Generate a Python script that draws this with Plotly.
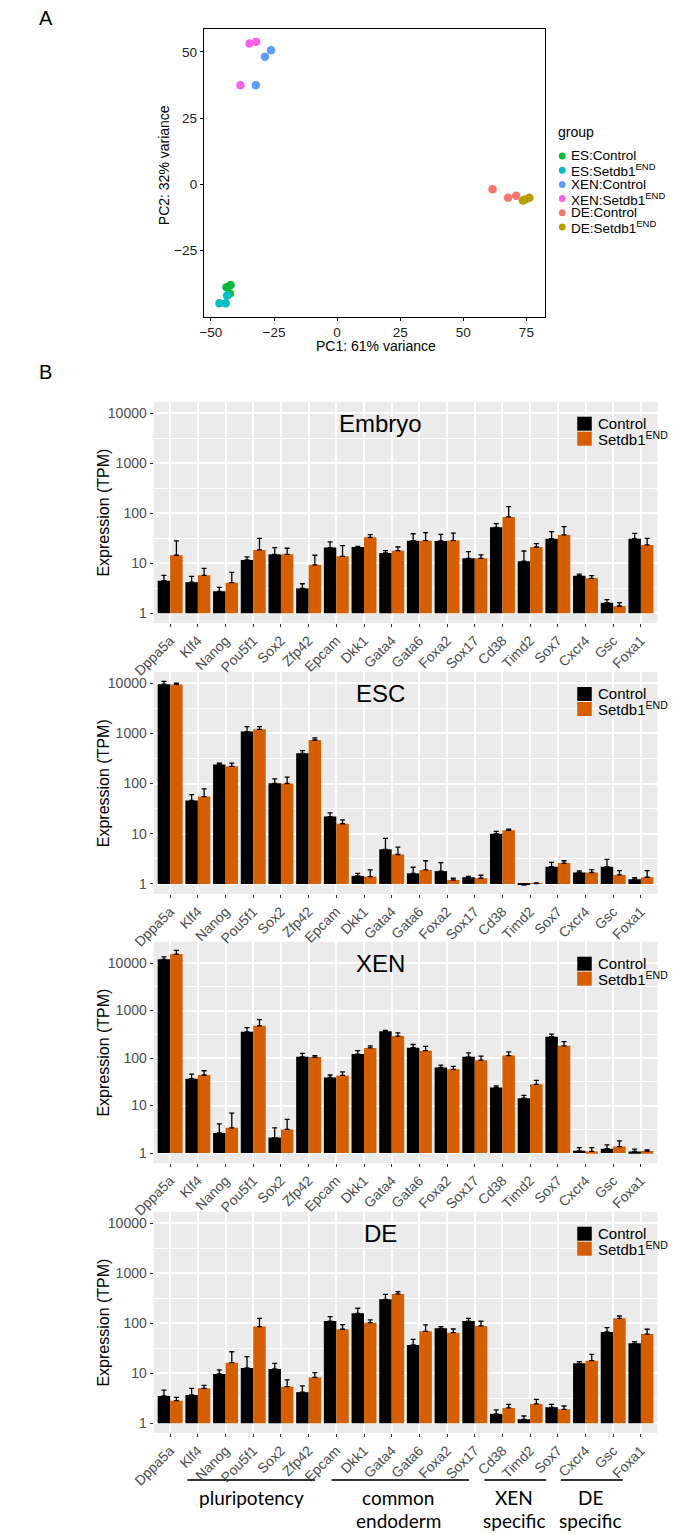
import numpy as np
import plotly.graph_objects as go

W, H = 673, 1535

# ---------------- PCA data ----------------
es_ctrl_pc1 = [-43.8, -42.2, -42.5]
es_ctrl_pc2 = [-38.8, -37.9, -41.1]
es_set_pc1 = [-46.6, -44.1, -43.6]
es_set_pc2 = [-44.8, -44.8, -41.9]
xen_ctrl_pc1 = [-26.2, -28.6, -32.2]
xen_ctrl_pc2 = [50.6, 48.1, 37.4]
xen_set_pc1 = [-34.7, -32.1, -38.3]
xen_set_pc2 = [53.1, 53.8, 37.4]
de_ctrl_pc1 = [61.6, 67.7, 70.9]
de_ctrl_pc2 = [-1.8, -5.0, -4.3]
de_set_pc1 = [73.6, 74.6, 76.2]
de_set_pc2 = [-6.1, -5.7, -5.0]

pca_groups = ["ES:Control", "ES:Setdb1<sup>END</sup>", "XEN:Control",
              "XEN:Setdb1<sup>END</sup>", "DE:Control", "DE:Setdb1<sup>END</sup>"]
pca_colors = ["#00BA38", "#00BFC4", "#619CFF", "#F564E3", "#F8766D", "#B79F00"]
pc_ticks_x = [-50, -25, 0, 25, 50, 75]
pc_ticks_y = [-25, 0, 25, 50]

# ---------------- Expression data (TPM) ----------------
genes = ["Dppa5a", "Klf4", "Nanog", "Pou5f1", "Sox2", "Zfp42", "Epcam", "Dkk1",
         "Gata4", "Gata6", "Foxa2", "Sox17", "Cd38", "Timd2", "Sox7", "Cxcr4",
         "Gsc", "Foxa1"]

emb_ctrl = [4.5, 4.2, 2.75, 11.7, 15.1, 3.16, 20.6, 21.2, 16.1, 28.3, 28.0, 12.6,
            52.5, 11.0, 31.1, 5.66, 1.63, 31.1]
emb_ctrl_top = [5.75, 5.5, 3.3, 13.4, 20.6, 3.9, 26.7, 21.7, 17.9, 39.0, 38.0, 17.1,
                62.0, 17.6, 43.0, 6.1, 1.88, 39.8]
emb_set = [14.5, 5.75, 4.1, 18.5, 15.1, 9.3, 13.8, 33.0, 17.9, 28.3, 28.5, 12.6,
           84.5, 21.2, 36.9, 5.0, 1.4, 23.3]
emb_set_top = [28.0, 7.9, 6.6, 31.6, 20.0, 14.5, 22.6, 37.4, 21.2, 41.0, 40.0, 14.7,
               136.0, 24.7, 54.0, 5.66, 1.63, 31.6]

esc_ctrl = [9500, 46, 240, 1080, 101, 398, 22, 1.45, 4.9, 1.63, 1.8, 1.36,
            10.0, 0.95, 2.2, 1.69, 2.2, 1.24]
esc_ctrl_top = [10800, 60, 255, 1360, 124, 450, 26, 1.63, 8.1, 2.15, 2.67, 1.42,
                11.1, 0.97, 2.7, 1.82, 3.1, 1.34]
esc_set = [9400, 55, 220, 1200, 100, 735, 15.8, 1.4, 3.86, 1.9, 1.2, 1.3,
           11.7, 1.02, 2.6, 1.69, 1.51, 1.36]
esc_set_top = [9900, 78, 255, 1360, 134, 807, 18.8, 1.9, 5.4, 2.9, 1.3, 1.49,
               12.4, 1.05, 2.9, 1.93, 1.85, 1.85]

xen_ctrl = [12000, 36.7, 2.64, 356, 2.12, 106, 39, 121, 367, 165, 63.5, 106,
            24, 14.3, 281, 1.11, 1.23, 1.08]
xen_ctrl_top = [13500, 46, 4.1, 436, 3.4, 125, 44, 143, 384, 193, 71, 128,
                26, 16.3, 318, 1.3, 1.48, 1.21]
xen_set = [15500, 44, 3.4, 478, 3.14, 105, 43, 163, 290, 143, 58, 90,
           113, 28, 181, 1.08, 1.37, 1.1]
xen_set_top = [18500, 54, 6.9, 644, 5.1, 113, 51, 181, 339, 176, 67, 110,
               135, 34, 222, 1.3, 1.81, 1.17]

de_ctrl = [3.52, 3.69, 9.7, 12.8, 12.2, 4.2, 111, 158, 302, 36.9, 79.4, 111,
           1.54, 1.2, 2.09, 15.8, 67, 39.8]
de_ctrl_top = [4.6, 5.0, 11.7, 21.5, 15.8, 5.6, 136, 200, 380, 47.9, 86, 126,
               1.85, 1.4, 2.4, 17.1, 82, 43]
de_set = [2.84, 5.0, 16.3, 86, 5.4, 8.3, 76, 103, 386, 69, 65, 88.5,
          2.03, 2.44, 1.9, 17.9, 126, 61]
de_set_top = [3.3, 5.75, 27, 126, 7.4, 10.3, 94, 117, 430, 93, 77, 110,
              2.4, 3.0, 2.22, 24, 140, 76]

y_tick_labels = ["1", "10", "100", "1000", "10000"]
group_labels = [("pluripotency", None), ("common", "endoderm"), ("XEN", "specific"),
                ("DE", "specific")]

FONT = "Liberation Sans, Arial, sans-serif"
ORANGE = "#D55E00"


def px_x(x):
    return x / W


def px_y(y):
    return 1 - y / H


fig = go.Figure()

# ---------------- PCA ----------------
pca_x = [es_ctrl_pc1, es_set_pc1, xen_ctrl_pc1, xen_set_pc1, de_ctrl_pc1, de_set_pc1]
pca_y = [es_ctrl_pc2, es_set_pc2, xen_ctrl_pc2, xen_set_pc2, de_ctrl_pc2, de_set_pc2]
for gx, gy, name, col in zip(pca_x, pca_y, pca_groups, pca_colors):
    fig.add_trace(go.Scatter(x=gx, y=gy, mode="markers", name=name,
                             marker=dict(color=col, size=8.5, line=dict(width=0)),
                             xaxis="x", yaxis="y", showlegend=False))

layout = dict(
    width=W, height=H, margin=dict(l=0, r=0, t=0, b=0),
    paper_bgcolor="white", plot_bgcolor="#EBEBEB",
    font=dict(family=FONT, size=14, color="#222"),
    barmode="group", bargap=0.1, bargroupgap=0,
    showlegend=False,
)

layout["xaxis"] = dict(domain=[px_x(188), px_x(541)], anchor="y", range=[-52.8, 82.5],
                       tickvals=pc_ticks_x, ticks="outside", ticklen=3,
                       tickcolor="black", showline=True, mirror=True, linecolor="black",
                       linewidth=1, showgrid=False, zeroline=False,
                       tickfont=dict(size=13.5, color="#222"))
layout["yaxis"] = dict(domain=[px_y(317), px_y(29)], anchor="x", range=[-50, 58.6],
                       tickvals=pc_ticks_y, ticks="outside", ticklen=3,
                       tickcolor="black", showline=True, mirror=True, linecolor="black",
                       linewidth=1, showgrid=False, zeroline=False,
                       tickfont=dict(size=13.5, color="#222"))

shapes = [dict(type="rect", xref="x domain", yref="y domain", x0=0, x1=1, y0=0, y1=1,
               fillcolor="white", line=dict(width=0), layer="below")]
annotations = []

annotations.append(dict(text="A", x=px_x(15), y=px_y(18), xref="paper", yref="paper",
                        showarrow=False, xanchor="left", yanchor="middle",
                        font=dict(size=20, color="black")))
annotations.append(dict(text="B", x=px_x(15), y=px_y(372), xref="paper", yref="paper",
                        showarrow=False, xanchor="left", yanchor="middle",
                        font=dict(size=20, color="black")))
annotations.append(dict(text="PC1: 61% variance", x=px_x(366), y=px_y(346), xref="paper",
                        yref="paper", showarrow=False, xanchor="center", yanchor="middle",
                        font=dict(size=14, color="black")))
annotations.append(dict(text="PC2: 32% variance", x=px_x(147), y=px_y(165), xref="paper",
                        yref="paper", showarrow=False, xanchor="center", yanchor="middle",
                        textangle=-90, font=dict(size=14, color="black")))

# PCA legend
annotations.append(dict(text="group", x=px_x(552), y=px_y(132), xref="paper", yref="paper",
                        showarrow=False, xanchor="left", yanchor="middle",
                        font=dict(size=14, color="black")))
for i, (name, col) in enumerate(zip(pca_groups, pca_colors)):
    cy = 156 + 14.2 * i
    shapes.append(dict(type="circle", xref="paper", yref="paper",
                       x0=px_x(555), x1=px_x(562), y0=px_y(cy + 3.5), y1=px_y(cy - 3.5),
                       fillcolor=col, line=dict(width=0)))
    annotations.append(dict(text=name, x=px_x(566), y=px_y(cy), xref="paper", yref="paper",
                            showarrow=False, xanchor="left", yanchor="middle",
                            font=dict(size=13.5, color="black")))

# ---------------- Bar panels ----------------
panels = [
    ("Embryo", emb_ctrl, emb_ctrl_top, emb_set, emb_set_top, 401.7, 623.0, [-0.194, 4.232]),
    ("ESC", esc_ctrl, esc_ctrl_top, esc_set, esc_set_top, 672.0, 894.0, [-0.2, 4.22]),
    ("XEN", xen_ctrl, xen_ctrl_top, xen_set, xen_set_top, 941.7, 1163.0, [-0.21, 4.45]),
    ("DE", de_ctrl, de_ctrl_top, de_set, de_set_top, 1211.7, 1433.0, [-0.194, 4.232]),
]

X0, X1 = 136, 657
for k, (title, c, ct, s, st, top, bot, yr) in enumerate(panels):
    idx = k + 2
    xa, ya = f"x{idx}", f"y{idx}"
    for vals, tops, col, nm in [(c, ct, "black", "Control"), (s, st, ORANGE, "Setdb1")]:
        lv = np.log10(np.array(vals, dtype=float))
        lt = np.log10(np.array(tops, dtype=float))
        fig.add_trace(go.Bar(
            x=genes, y=lv, name=nm, marker=dict(color=col, line=dict(width=0)),
            error_y=dict(type="data", symmetric=False, array=np.maximum(lt - lv, 0),
                         arrayminus=np.zeros(len(lv)), color="black", thickness=1.3,
                         width=2.5),
            xaxis=xa, yaxis=ya, showlegend=False))
    layout[f"xaxis{idx}"] = dict(
        domain=[px_x(X0), px_x(X1)], anchor=ya, type="category",
        categoryorder="array", categoryarray=genes, range=[-0.6, 17.6],
        tickangle=-45, ticks="outside", ticklen=3, tickcolor="#333",
        showgrid=True, gridcolor="white", gridwidth=1.5, zeroline=False,
        showline=False, tickfont=dict(size=14, color="#4D4D4D"))
    layout[f"yaxis{idx}"] = dict(
        domain=[px_y(bot), px_y(top)], anchor=xa, range=yr,
        tickmode="array", tickvals=[0, 1, 2, 3, 4], ticktext=y_tick_labels,
        ticks="outside", ticklen=3, tickcolor="#333",
        showgrid=True, gridcolor="white", gridwidth=1.5, zeroline=False,
        showline=False, tickfont=dict(size=14, color="#4D4D4D"),
        minor=dict(tickmode="array", tickvals=[0.5, 1.5, 2.5, 3.5], showgrid=True,
                   gridcolor="white", gridwidth=0.8, ticks=""))
    annotations.append(dict(text=title, x=px_x(371), y=px_y(top + 22), xref="paper",
                            yref="paper", showarrow=False, xanchor="center",
                            yanchor="middle", font=dict(size=24, color="black")))
    annotations.append(dict(text="Expression (TPM)", x=px_x(84), y=px_y((top + bot) / 2),
                            xref="paper", yref="paper", showarrow=False, textangle=-90,
                            xanchor="center", yanchor="middle",
                            font=dict(size=16, color="black")))
    for j, (col, lab) in enumerate([("black", "Control"), (ORANGE, "Setdb1<sup>END</sup>")]):
        y0 = top + 15 + 15 * j
        shapes.append(dict(type="rect", xref="paper", yref="paper",
                           x0=px_x(574), x1=px_x(589), y0=px_y(y0 + 14), y1=px_y(y0),
                           fillcolor=col, line=dict(width=0)))
        annotations.append(dict(text=lab, x=px_x(593), y=px_y(y0 + 7), xref="paper",
                                yref="paper", showarrow=False, xanchor="left",
                                yanchor="middle", font=dict(size=15, color="black")))

# group annotation lines under DE panel
group_lines = [(171, 303), (320, 462), (478, 542), (557, 621)]
group_centers = [237, 389, 509, 588]
for (gx0, gx1), cx, (l1, l2) in zip(group_lines, group_centers, group_labels):
    shapes.append(dict(type="line", xref="paper", yref="paper", x0=px_x(gx0), x1=px_x(gx1),
                       y0=px_y(1480), y1=px_y(1480), line=dict(color="#333", width=2)))
    annotations.append(dict(text=l1, x=px_x(cx), y=px_y(1497), xref="paper", yref="paper",
                            showarrow=False, xanchor="center", yanchor="middle",
                            font=dict(size=19, color="black", family="Lato, sans-serif")))
    if l2:
        annotations.append(dict(text=l2, x=px_x(cx), y=px_y(1520), xref="paper",
                                yref="paper", showarrow=False, xanchor="center",
                                yanchor="middle",
                                font=dict(size=19, color="black", family="Lato, sans-serif")))

layout["shapes"] = shapes
layout["annotations"] = annotations
fig.update_layout(**layout)
fig.write_html("out.html", config={"displayModeBar": False})

# remove the default page margin so the figure sits at the window's origin
with open("out.html", "r", encoding="utf-8") as f:
    html = f.read()
html = html.replace("<head>", "<head><style>html,body{margin:0;padding:0;overflow:hidden}</style>", 1)
with open("out.html", "w", encoding="utf-8") as f:
    f.write(html)
